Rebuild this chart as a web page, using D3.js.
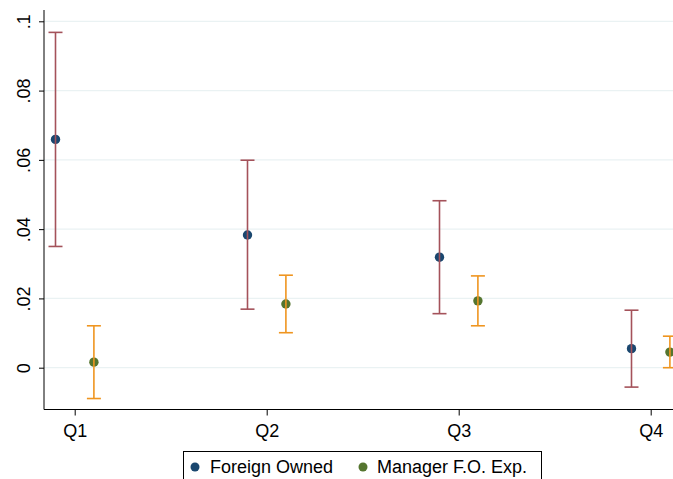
<!DOCTYPE html>
<html><head><meta charset="utf-8">
<script src="https://cdn.jsdelivr.net/npm/d3@7"></script>
<style>body{margin:0;background:#fff;overflow:hidden}svg{display:block;font-family:"Liberation Sans",Arial,sans-serif}</style>
</head><body><svg id="c" width="673" height="479"></svg>
<script>
const categories = ["Q1","Q2","Q3","Q4"];
const foreignEst = [0.0659, 0.0383, 0.0319, 0.0055];
const foreignLo  = [0.0350, 0.0169, 0.0156, -0.0056];
const foreignHi  = [0.0968, 0.0599, 0.0482, 0.0166];
const managerEst = [0.0016, 0.0184, 0.0193, 0.0045];
const managerLo  = [-0.0089, 0.0101, 0.0121, 0.0000];
const managerHi  = [0.0121, 0.0267, 0.0265, 0.0091];
const yTicks = [0, 0.02, 0.04, 0.06, 0.08, 0.1];
const yTickLabels = ["0", ".02", ".04", ".06", ".08", ".1"];
const seriesNames = ["Foreign Owned", "Manager F.O. Exp."];

const svg = d3.select("#c");
const x = d3.scaleLinear().domain([1, 4]).range([74.7, 650.7]);
const y = d3.scaleLinear().domain([0, 0.1]).range([367.7, 21.3]);
const axisX = 44, axisY = 409.5, plotTop = 10, plotRight = 673;
const fs = "18px";

// gridlines
svg.append("g").selectAll("line").data(yTicks).join("line")
  .attr("x1", axisX).attr("x2", plotRight)
  .attr("y1", d => y(d)).attr("y2", d => y(d))
  .attr("stroke", "#eaf2f3").attr("stroke-width", 1.2);

// y axis
const ya = svg.append("g").attr("transform", `translate(${axisX},0)`)
  .call(d3.axisLeft(y).tickValues(yTicks).tickSize(5).tickFormat((d,i) => yTickLabels[i]));
ya.select(".domain").remove();
ya.selectAll(".tick line").attr("stroke", "#000");
ya.selectAll(".tick text").attr("fill", "#000").style("font-size", fs)
  .attr("text-anchor", "middle").attr("x", 0).attr("dy", 0)
  .attr("transform", "translate(-20,0) rotate(-90)")
  .attr("dominant-baseline", "central");
svg.append("line").attr("x1", axisX).attr("x2", axisX).attr("y1", plotTop).attr("y2", axisY)
  .attr("stroke", "#000").attr("stroke-width", 1);

// x axis
const xa = svg.append("g").attr("transform", `translate(0,${axisY})`)
  .call(d3.axisBottom(x).tickValues([1,2,3,4]).tickSize(6).tickFormat((d,i) => categories[i]));
xa.select(".domain").remove();
xa.selectAll(".tick line").attr("stroke", "#000");
xa.selectAll(".tick text").attr("fill", "#000").style("font-size", fs).attr("dy", "1.05em");
svg.append("line").attr("x1", axisX).attr("x2", plotRight).attr("y1", axisY).attr("y2", axisY)
  .attr("stroke", "#000").attr("stroke-width", 1);

const off = 0.1, cap = 7;
function drawSeries(est, lo, hi, dx, dotColor, ciColor) {
  const g = svg.append("g");
  const data = categories.map((c, i) => ({i: i + 1, e: est[i], l: lo[i], h: hi[i]}));
  g.selectAll("circle").data(data).join("circle")
    .attr("cx", d => x(d.i + dx)).attr("cy", d => y(d.e)).attr("r", 4.7).attr("fill", dotColor);
  const ci = g.selectAll("g.ci").data(data).join("g").attr("class", "ci")
    .attr("stroke", ciColor).attr("stroke-width", 1.6);
  ci.append("line").attr("x1", d => x(d.i + dx)).attr("x2", d => x(d.i + dx))
    .attr("y1", d => y(d.l)).attr("y2", d => y(d.h));
  ci.append("line").attr("x1", d => x(d.i + dx) - cap).attr("x2", d => x(d.i + dx) + cap)
    .attr("y1", d => y(d.h)).attr("y2", d => y(d.h));
  ci.append("line").attr("x1", d => x(d.i + dx) - cap).attr("x2", d => x(d.i + dx) + cap)
    .attr("y1", d => y(d.l)).attr("y2", d => y(d.l));
}
drawSeries(foreignEst, foreignLo, foreignHi, -off, "#1a476f", "#a4525a");
drawSeries(managerEst, managerLo, managerHi, off, "#55752f", "#ef9520");

// legend
const lg = svg.append("g");
lg.append("rect").attr("x", 183.5).attr("y", 451.5).attr("width", 358).attr("height", 40)
  .attr("fill", "#fff").attr("stroke", "#000").attr("stroke-width", 1);
const legItems = [{n: seriesNames[0], c: "#1a476f", mx: 195, tx: 210},
                  {n: seriesNames[1], c: "#55752f", mx: 363, tx: 377}];
legItems.forEach(it => {
  lg.append("circle").attr("cx", it.mx).attr("cy", 467).attr("r", 4.5).attr("fill", it.c);
  lg.append("text").attr("x", it.tx).attr("y", 467).attr("dominant-baseline", "central")
    .style("font-size", fs).attr("fill", "#000").text(it.n);
});
</script></body></html>
